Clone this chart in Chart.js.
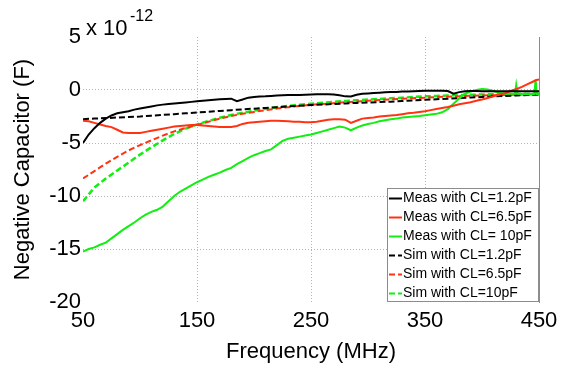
<!DOCTYPE html>
<html>
<head>
<meta charset="utf-8">
<script src="https://cdn.jsdelivr.net/npm/chart.js@4"></script>
<style>
  html, body { margin: 0; padding: 0; background: #fff; }
  #wrap { width: 584px; height: 369px; }
</style>
</head>
<body>
<div id="wrap"><canvas id="negCap" width="584" height="369"></canvas></div>
<script>
// frequency grids (MHz)
var measFreq = [50,55,60,65,70,75,80,85,90,95,100,105,110,115,120,125,130,135,140,145,
  150,155,160,165,170,175,180,185,190,195,200,205,210,215,220,225,230,235,240,245,
  250,255,260,265,270,275,280,285,290,295,300,305,310,315,320,325,330,335,340,345,
  350,355,360,365,370,375,380,385,390,395,400,405,410,415,420,425,429,430,431,435,
  440,445,446,447,448,450];
var simFreq = [50,60,70,80,90,100,110,120,130,140,150,160,170,180,190,200,210,220,230,240,
  250,260,270,280,290,300,310,320,330,340,350,360,370,380,390,400,410,420,430,440,450];

// values in units of 1e-12 F
var measCL12 = [-5.0,-4.2,-3.6,-3.1,-2.7,-2.4,-2.2,-2.1,-2.0,-1.85,-1.75,-1.65,-1.55,-1.45,-1.38,-1.32,-1.27,-1.22,-1.17,-1.12,
  -1.07,-1.02,-0.97,-0.92,-0.88,-0.84,-0.82,-1.05,-0.9,-0.72,-0.66,-0.62,-0.6,-0.56,-0.52,-0.5,-0.48,-0.47,-0.46,-0.44,
  -0.42,-0.41,-0.4,-0.4,-0.42,-0.5,-0.6,-0.62,-0.45,-0.36,-0.32,-0.28,-0.25,-0.22,-0.2,-0.18,-0.15,-0.13,-0.12,-0.1,
  -0.08,-0.08,-0.08,-0.08,-0.1,-0.35,-0.2,-0.12,-0.1,-0.1,-0.12,-0.12,-0.12,-0.12,-0.12,-0.12,-0.12,-0.12,-0.12,-0.12,
  -0.12,-0.12,-0.12,-0.12,-0.12,-0.12];
var measCL65 = [-2.9,-2.95,-3.1,-3.25,-3.4,-3.5,-3.75,-4.0,-4.05,-4.05,-4.05,-3.95,-3.85,-3.75,-3.65,-3.55,-3.45,-3.4,-3.35,-3.3,
  -3.3,-3.35,-3.4,-3.45,-3.5,-3.5,-3.5,-3.4,-3.2,-3.1,-3.05,-3.0,-2.95,-2.9,-2.9,-2.92,-2.95,-3.0,-3.0,-3.05,
  -3.05,-3.0,-2.9,-2.8,-2.75,-2.75,-2.8,-3.1,-2.9,-2.7,-2.65,-2.6,-2.5,-2.45,-2.4,-2.35,-2.28,-2.2,-2.15,-2.08,
  -2.0,-1.9,-1.8,-1.7,-1.6,-1.48,-1.35,-1.25,-1.15,-1.02,-0.9,-0.75,-0.6,-0.45,-0.3,-0.1,0.05,0.1,0.12,0.3,
  0.55,0.8,0.85,0.9,0.95,1.0];
var measCL10 = [-15.25,-15.0,-14.85,-14.6,-14.4,-14.0,-13.6,-13.2,-12.85,-12.5,-12.1,-11.75,-11.5,-11.3,-11.0,-10.5,-10.0,-9.6,-9.3,-9.0,
  -8.7,-8.45,-8.2,-8.0,-7.8,-7.55,-7.35,-7.0,-6.7,-6.4,-6.15,-5.95,-5.75,-5.6,-5.2,-4.8,-4.6,-4.5,-4.4,-4.3,
  -4.2,-4.05,-3.9,-3.75,-3.6,-3.45,-3.55,-3.8,-3.55,-3.35,-3.2,-3.1,-2.95,-2.85,-2.75,-2.7,-2.6,-2.55,-2.5,-2.45,
  -2.38,-2.32,-2.25,-2.1,-1.8,-1.3,-0.8,-0.35,-0.15,0.0,0.1,0.05,-0.1,-0.25,-0.35,-0.35,-0.35,0.45,-0.35,-0.38,
  -0.4,-0.4,-0.4,1.0,-0.4,-0.4];

var simCL12 = [-2.75,-2.7,-2.65,-2.6,-2.55,-2.5,-2.42,-2.35,-2.28,-2.2,
  -2.13,-2.05,-1.98,-1.9,-1.83,-1.76,-1.69,-1.62,-1.55,-1.48,
  -1.42,-1.37,-1.32,-1.27,-1.22,-1.18,-1.14,-1.1,-1.04,-0.98,
  -0.93,-0.87,-0.82,-0.77,-0.71,-0.66,-0.6,-0.56,-0.52,-0.48,-0.45];
var simCL65 = [-8.35,-7.65,-6.95,-6.3,-5.7,-5.2,-4.75,-4.3,-3.9,-3.58,
  -3.3,-3.0,-2.7,-2.45,-2.25,-2.07,-1.9,-1.75,-1.62,-1.5,
  -1.4,-1.32,-1.24,-1.16,-1.09,-1.02,-0.95,-0.89,-0.83,-0.77,
  -0.72,-0.67,-0.63,-0.59,-0.55,-0.52,-0.49,-0.46,-0.44,-0.42,-0.4];
var simCL10 = [-10.5,-9.2,-8.35,-7.6,-6.85,-6.1,-5.4,-4.75,-4.15,-3.65,
  -3.25,-2.92,-2.62,-2.36,-2.14,-1.95,-1.78,-1.63,-1.5,-1.39,
  -1.29,-1.2,-1.12,-1.04,-0.97,-0.9,-0.84,-0.78,-0.72,-0.66,
  -0.6,-0.56,-0.52,-0.48,-0.45,-0.42,-0.4,-0.38,-0.36,-0.35,-0.34];

var xTicks = [50, 150, 250, 350, 450];
var yTicks = [5, 0, -5, -10, -15, -20];

function pts(xs, ys) {
  return xs.map(function (x, i) { return { x: x, y: ys[i] }; });
}

var FONT = '"Liberation Sans", Arial, sans-serif';
var BLACK = '#000000', RED = '#ff3311', GREEN = '#11ee11';
var GRID = '#b4b4b4';

var legendBox = {
  id: 'legendBox',
  afterDraw: function (chart) {
    var c = chart.ctx, a = chart.chartArea;
    var w = 152, rowH = 19, n = chart.data.datasets.length, h = rowH * n;
    var x0 = a.right - w, y0 = a.bottom - h;
    c.save();
    c.fillStyle = '#fff';
    c.fillRect(x0, y0, w, h);
    c.strokeStyle = '#8c8c8c';
    c.lineWidth = 1;
    c.strokeRect(x0 + 0.5, y0 + 0.5, w - 1, h - 1);
    c.font = '14px ' + FONT;
    c.textBaseline = 'middle';
    chart.data.datasets.forEach(function (ds, i) {
      var cy = y0 + rowH * i + rowH / 2 + 1;
      c.beginPath();
      c.setLineDash(ds.borderDash || []);
      c.strokeStyle = ds.borderColor;
      c.lineWidth = 2;
      c.moveTo(x0 + 2, cy);
      c.lineTo(x0 + 15, cy);
      c.stroke();
      c.setLineDash([]);
      c.fillStyle = '#000';
      c.fillText(ds.label, x0 + 16, cy);
    });
    // exponent label of the y axis
    c.fillStyle = '#000';
    c.textBaseline = 'alphabetic';
    c.font = '22px ' + FONT;
    c.fillText('x 10', a.left + 3, a.top - 2);
    c.font = '16px ' + FONT;
    c.fillText('-12', a.left + 47, a.top - 16);
    c.restore();
  }
};

new Chart(document.getElementById('negCap'), {
  type: 'line',
  data: {
    datasets: [{
      label: 'Meas with CL=1.2pF',
      data: pts(measFreq, measCL12),
      borderColor: BLACK,
      borderWidth: 2
    }, {
      label: 'Meas with CL=6.5pF',
      data: pts(measFreq, measCL65),
      borderColor: RED,
      borderWidth: 2
    }, {
      label: 'Meas with CL= 10pF',
      data: pts(measFreq, measCL10),
      borderColor: GREEN,
      borderWidth: 2
    }, {
      label: 'Sim with CL=1.2pF',
      data: pts(simFreq, simCL12),
      borderColor: BLACK,
      borderDash: [6, 3],
      borderWidth: 2
    }, {
      label: 'Sim with CL=6.5pF',
      data: pts(simFreq, simCL65),
      borderColor: RED,
      borderDash: [6, 3],
      borderWidth: 2
    }, {
      label: 'Sim with CL=10pF',
      data: pts(simFreq, simCL10),
      borderColor: GREEN,
      borderDash: [6, 3],
      borderWidth: 2.5
    }]
  },
  options: {
    responsive: false,
    animation: false,
    events: [],
    layout: { padding: { left: 0, right: 45, top: 37, bottom: 0 } },
    elements: { point: { radius: 0 }, line: { tension: 0, fill: false } },
    plugins: { legend: { display: false }, tooltip: { enabled: false } },
    scales: {
      x: {
        type: 'linear',
        min: 50,
        max: 450,
        afterBuildTicks: function (s) { s.ticks = xTicks.map(function (v) { return { value: v }; }); },
        afterFit: function (s) { s.height = 67; },
        ticks: { color: '#000', font: { family: FONT, size: 22 }, padding: 6, maxRotation: 0 },
        grid: {
          drawTicks: false,
          lineWidth: 1,
          color: function (ctx) {
            var v = ctx.tick && ctx.tick.value;
            return (v === 50 || v === 450) ? 'rgba(0,0,0,0)' : GRID;
          }
        },
        border: { display: false, dash: [1, 2] },
        title: {
          display: true,
          text: 'Frequency (MHz)',
          color: '#000',
          font: { family: FONT, size: 22 },
          padding: { top: 0, bottom: 4 }
        }
      },
      y: {
        type: 'linear',
        min: -20,
        max: 5,
        afterBuildTicks: function (s) { s.ticks = yTicks.map(function (v) { return { value: v }; }); },
        afterFit: function (s) { s.width = 83; },
        ticks: { color: '#000', font: { family: FONT, size: 22 }, padding: 2 },
        grid: {
          drawTicks: false,
          lineWidth: 1,
          color: function (ctx) {
            var v = ctx.tick && ctx.tick.value;
            return (v === 5 || v === -20) ? 'rgba(0,0,0,0)' : GRID;
          }
        },
        border: { display: false, dash: [1, 2] },
        title: {
          display: true,
          text: 'Negative Capacitor (F)',
          color: '#000',
          font: { family: FONT, size: 22 },
          padding: { top: 10, bottom: 0 }
        }
      },
      yRight: {
        type: 'linear',
        position: 'right',
        min: -20,
        max: 5,
        afterFit: function (s) { s.width = 0; },
        ticks: { display: false },
        grid: { display: false, drawTicks: false },
        border: { display: true, color: '#8c8c8c', width: 1 }
      }
    }
  },
  plugins: [legendBox]
});
</script>
</body>
</html>
